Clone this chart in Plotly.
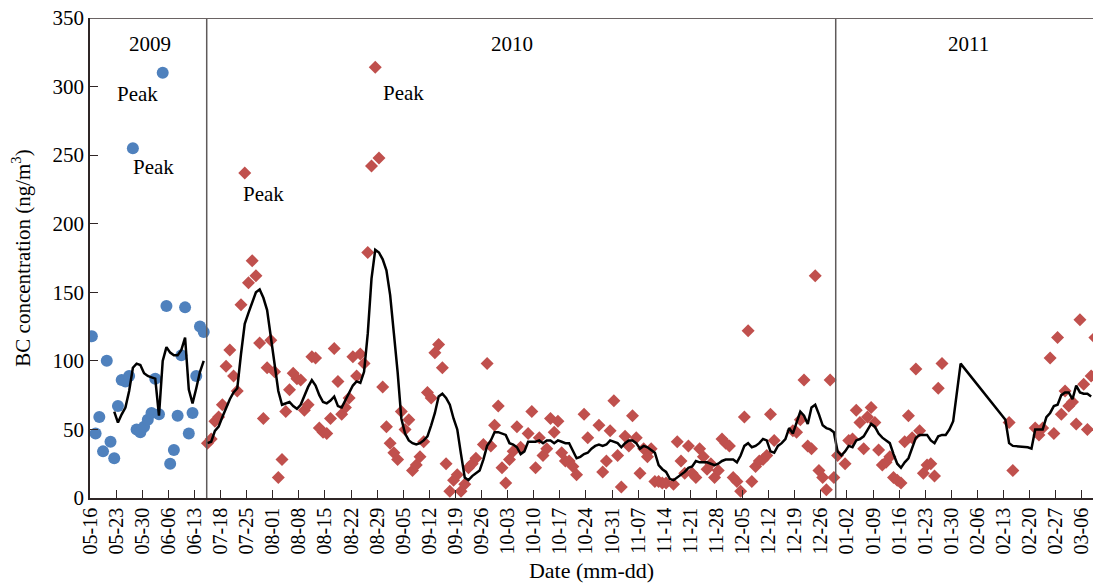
import pandas as pd
import plotly.graph_objects as go

# ---- Daily BC concentration (ng/m3) ----
# 2009 campaign, one value per day from the start date
bc2009_start = "2009-05-16"
bc2009 = [118, 47, 59, 34, 100, 41, 29, 67, 86, 85, 89, 255, 50, 48, 52, 57,
          62, 87, 61, 310, 140, 25, 35, 60, 104, 139, 47, 62, 89, 125, 121]

# 7-day running mean, 2009
ma2009_start = "2009-05-22"
ma2009 = [63, 55, 61, 66, 78, 95, 98, 97, 91, 89, 88, 87, 60, 100, 110, 106,
          104, 104, 108, 117, 79, 69, 80, 92, 100]

# 2010-2011 campaign, one value per day from the start date (None = no sample)
bc1011_start = "2010-07-14"
bc1011 = [
    40, 43, 56, 59, 68, 96, 108, 89, 78, 141, 237, 157, 173, 162, 113, 58,
    95, 115, 92, 15, 28, 63, 79, 91, 87, 86, 64, 68, 103, 102, 51, 48,
    47, 58, 109, 85, 61, 66, 73, 103, 89, 105, 98, 179, 242, 314, 248, 81,
    52, 40, 33, 28, 63, 50, 57, 20, 24, 30, 41, 77, 73, 106, 112, 95,
    25, 5, 13, 17, 5, 10, 22, 25, 29, None, 39, 98, 38, 53, 67, 22,
    11, 28, 34, 52, 37, None, 47, 63, 22, 44, 31, 36, 58, 48, 56, 33,
    27, 27, 23, 17, None, 61, 44, None, None, 53, 19, 27, 49, 71, 31, 8,
    45, 38, 60, 44, 18, 36, 30, 36, 12, 12, 11, 11, None, 10, 41, 27,
    18, 38, 18, 15, 36, 30, 21, 25, 15, 20, 43, 40, 38, 15, 12, 5,
    59, 122, 12, 23, 27, 28, 31, 61, 42, None, None, None, None, 49, 48, 57,
    86, 38, 36, 162, 20, 15, 6, 86, 15, 31, None, 25, 42, 43, 64, 55,
    36, 59, 66, 55, 35, 24, 26, 30, 15, 13, 11, 41, 60, 44, 94, 49,
    18, 24, 25, 16, 80, 98, None, None, None, None, None, None, None, None,
    None, None, None, None, None, None, None, None, None, 55, 20, None, None, None,
    None, None, 51, 46, 51, None, 102, 47, 117, 61, 78, 67, 70, 54, 130, 83,
    50, 89, 117,
]

# 7-day running mean, 2010-2011 (None = not enough samples)
ma1011_start = "2010-07-14"
ma1011 = [
    40, 41, 49, 52, 59, 66, 72, 77, 80, 105, 127, 135, 143, 150, 152, 146,
    137, 116, 99, 78, 68, 69, 70, 67, 65, 68, 75, 81, 86, 82, 75, 70,
    69, 71, 74, 67, 66, 71, 77, 82, 85, 84, 92, 120, 160, 181, 179, 174,
    166, 148, 120, 92, 58, 47, 42, 40, 39, 40, 42, 45, 53, 62, 74, 76,
    73, 68, 58, 50, 32, 15, 13, 16, 18, 20, 28, 38, 42, 48, 48, 47,
    46, 40, 39, 37, 32, 34, 41, 41, 41, 42, 40, 42, 42, 40, 42, 41,
    40, 40, 35, 29, 30, 32, 33, 36, 38, 39, 38, 39, 42, 41, 40, 37,
    40, 42, 42, 40, 36, 38, 37, 35, 33, 24, 21, 19, 14, 13, 15, 17,
    19, 22, 23, 27, 26, 26, 26, 25, 24, 25, 27, 28, 28, 28, 26, 31,
    38, 40, 37, 38, 40, 43, 42, 34, 33, 38, 40, 43, 51, 47, 55, 63,
    60, 54, 66, 68, 61, 53, 51, 50, 48, 34, 31, 34, 38, 37, 42, 43,
    45, 50, 54, 52, 47, 44, 42, 40, 32, 25, 22, 26, 29, 37, 44, 46,
    46, 46, 42, 40, 45, 46, 46, 50, 56, 76, 98, None, None, None, None, None,
    None, None, None, None, None, None, 57, 40, 38, None, None, None, 37, 36,
    50, 50, 50, 59, 62, 67, 68, 75, 77, 77, 72, 82, 77, 76, 76, 74,
]

# Weekly tick labels along the (joined) date axis
tick_labels = ["05-16", "05-23", "05-30", "06-06", "06-13",
               "07-18", "07-25", "08-01", "08-08", "08-15", "08-22", "08-29",
               "09-05", "09-12", "09-19", "09-26", "10-03", "10-10", "10-17",
               "10-24", "10-31", "11-07", "11-14", "11-21", "11-28", "12-05",
               "12-12", "12-19", "12-26", "01-02", "01-09", "01-16", "01-23",
               "01-30", "02-06", "02-13", "02-20", "02-27", "03-06"]

# Peak samples that are labelled
peak_dates = ["2009-06-04", "2009-05-27", "2010-07-24", "2010-08-28"]
peak_values = [310, 255, 237, 314]

# ---- Axis coordinate: 2009 and 2010-11 joined, 06-13 (2009) -> 07-18 (2010) is one week ----
T2009 = pd.Timestamp("2009-05-16")
T2010 = pd.Timestamp("2010-07-18")


def axis_day(d):
    d = pd.Timestamp(d)
    if d.year == 2009:
        return (d - T2009).days
    return (d - T2010).days + 35


def daily_x(start, n):
    # daily means are placed at mid-day
    return [axis_day(d) + 0.5 for d in pd.date_range(start, periods=n, freq="D")]


SERIF = "Liberation Serif, Times New Roman, serif"
AXIS_COLOR = "#2f2626"
BLUE = "#4F81BD"
RED = "#C0504D"

fig = go.Figure()

fig.add_trace(go.Scatter(
    x=daily_x(bc2009_start, len(bc2009)), y=bc2009, mode="markers",
    marker=dict(symbol="circle", size=12, color=BLUE, line=dict(width=0)),
    name="2009", showlegend=False))

fig.add_trace(go.Scatter(
    x=daily_x(bc1011_start, len(bc1011)), y=bc1011, mode="markers",
    marker=dict(symbol="diamond", size=10, color=RED, line=dict(width=0)),
    name="2010-2011", showlegend=False))

fig.add_trace(go.Scatter(
    x=daily_x(ma2009_start, len(ma2009)), y=ma2009, mode="lines",
    line=dict(color="black", width=2.5), showlegend=False))

fig.add_trace(go.Scatter(
    x=daily_x(ma1011_start, len(ma1011)), y=ma1011, mode="lines",
    line=dict(color="black", width=2.5), connectgaps=True, showlegend=False))

# Year separators and top frame
for xs in (31.3, 200.0):
    fig.add_shape(type="line", x0=xs, x1=xs, y0=0, y1=350, xref="x", yref="y",
                  line=dict(color="#5f5a5a", width=1.5))
fig.add_shape(type="line", x0=0, x1=1, y0=350, y1=350, xref="paper", yref="y",
              line=dict(color="#6a6363", width=2))

# Year labels
for label, xpos in (("2009", 16.1), ("2010", 113.2), ("2011", 235.5)):
    fig.add_annotation(x=xpos, y=331, text=label, showarrow=False,
                       font=dict(family=SERIF, size=21, color="black"))

# "Peak" labels beside the peak samples
peak_shift = [(-25, -21), (21, -19), (19, -21), (28, -26)]
for d, v, (dx, dy) in zip(peak_dates, peak_values, peak_shift):
    fig.add_annotation(x=axis_day(d) + 0.5, y=v, text="Peak", showarrow=False,
                       xshift=dx, yshift=dy,
                       font=dict(family=SERIF, size=21, color="black"))

fig.update_layout(
    width=1093, height=584,
    margin=dict(l=90, r=0, t=18, b=86),
    paper_bgcolor="white", plot_bgcolor="white",
    font=dict(family=SERIF, size=20, color="black"),
    xaxis=dict(
        range=[0, 269], tickmode="array",
        tickvals=[7 * i for i in range(len(tick_labels))], ticktext=tick_labels,
        tickangle=-90, ticks="inside", ticklen=8, tickwidth=1.2, tickcolor=AXIS_COLOR,
        showline=True, linecolor=AXIS_COLOR, linewidth=1.5,
        showgrid=False, zeroline=False,
        tickfont=dict(family=SERIF, size=20, color="black"),
        title=dict(text="Date (mm-dd)", standoff=9,
                   font=dict(family=SERIF, size=22, color="black")),
    ),
    yaxis=dict(
        range=[0, 350], tickmode="linear", tick0=0, dtick=50,
        ticks="inside", ticklen=8, tickwidth=1.2, tickcolor=AXIS_COLOR,
        showline=True, linecolor=AXIS_COLOR, linewidth=1.5,
        showgrid=False, zeroline=False,
        tickfont=dict(family=SERIF, size=21, color="black"),
        title=dict(text="BC concentration (ng/m<sup>3</sup>)", standoff=16,
                   font=dict(family=SERIF, size=21, color="black")),
    ),
)

fig.write_html("out.html")
